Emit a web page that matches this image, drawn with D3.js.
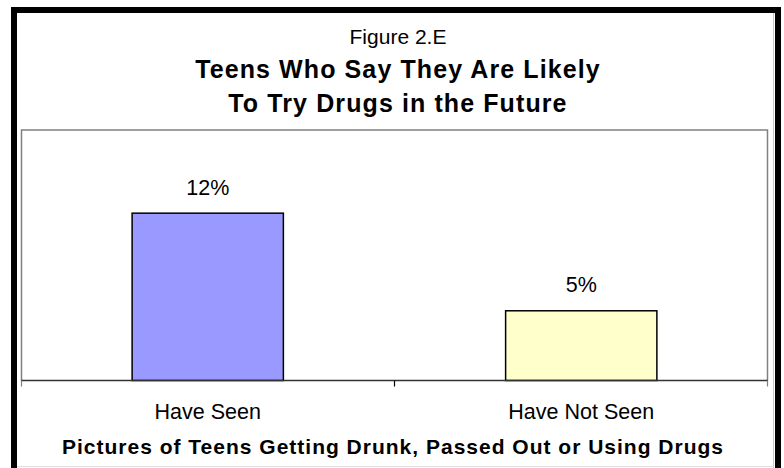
<!DOCTYPE html>
<html><head><meta charset="utf-8">
<script src="https://cdn.jsdelivr.net/npm/d3@7"></script>
<style>body{margin:0;background:#fff}svg{display:block;font-family:"Liberation Sans",Arial,sans-serif}</style>
</head><body><svg id="c" width="784" height="468"></svg>
<script>
const categories = ["Have Seen", "Have Not Seen"];
const values = [12, 5];
const valueLabels = ["12%", "5%"];
const colors = ["#9999FF", "#FFFFCC"];
const figureLabel = "Figure 2.E";
const titleLines = ["Teens Who Say They Are Likely", "To Try Drugs in the Future"];
const xTitle = "Pictures of Teens Getting Drunk, Passed Out or Using Drugs";
const yMax = 18;

const svg = d3.select("#c");
// outer frame
svg.append("rect").attr("x",14).attr("y",10).attr("width",764).attr("height",520)
  .attr("fill","#fff").attr("stroke","#000").attr("stroke-width",6);
svg.append("line").attr("x1",773.5).attr("x2",773.5).attr("y1",13).attr("y2",468).attr("stroke","#c8c8c8");
svg.append("line").attr("x1",17).attr("x2",774).attr("y1",466.5).attr("y2",466.5).attr("stroke","#e0e0e0");

const L = 21, R = 768, T = 129.5, B = 380.5;
const x = d3.scaleBand().domain(categories).range([L, R]).paddingInner(0.595).paddingOuter(0.2975);
const y = d3.scaleLinear().domain([0, yMax]).range([B, T]);

// plot border
svg.append("path").attr("d",`M${L+0.5},${B}V${T+0.5}H${R-0.5}V${B}`).attr("fill","none").attr("stroke","#808080").attr("stroke-width",1.5);

// bars
svg.selectAll("rect.bar").data(categories).join("rect").attr("class","bar")
  .attr("x", d => x(d)).attr("width", x.bandwidth())
  .attr("y", (d,i) => y(values[i])).attr("height", (d,i) => B - y(values[i]))
  .attr("fill", (d,i) => colors[i]).attr("stroke","#000").attr("stroke-width",1.5);

// value labels
svg.selectAll("text.val").data(categories).join("text").attr("class","val")
  .attr("x", d => x(d) + x.bandwidth()/2).attr("y", (d,i) => y(values[i]) - 18.5)
  .attr("text-anchor","middle").attr("font-size",21.5).attr("fill","#000")
  .text((d,i) => valueLabels[i]);

// x axis
const outer = d3.scalePoint().domain(d3.range(categories.length+1)).range([L+0.5, R-0.5]);
const ax = svg.append("g").attr("transform",`translate(0,${B})`);
ax.append("line").attr("x1",L).attr("x2",R).attr("stroke","#333").attr("stroke-width",1.5);
ax.selectAll("line.tk").data(outer.domain()).join("line").attr("class","tk")
  .attr("x1", d => outer(d)).attr("x2", d => outer(d)).attr("y1",0).attr("y2",6)
  .attr("stroke", d => (d===0||d===categories.length) ? "#808080" : "#000").attr("stroke-width",1.2);
ax.selectAll("text").data(categories).join("text")
  .attr("x", d => x(d) + x.bandwidth()/2).attr("y", 38.5)
  .attr("text-anchor","middle").attr("font-size",21.5).attr("fill","#000").text(d => d);

// titles
svg.append("text").attr("x",398).attr("y",44).attr("text-anchor","middle").attr("font-size",21).text(figureLabel);
svg.selectAll("text.tl").data(titleLines).join("text").attr("class","tl")
  .attr("x",398).attr("y",(d,i) => 77.5 + i*34.5).attr("text-anchor","middle")
  .attr("font-size",25).attr("font-weight","bold").attr("letter-spacing",1.1).text(d => d);
svg.append("text").attr("x",393).attr("y",454).attr("text-anchor","middle")
  .attr("font-size",21).attr("font-weight","bold").attr("letter-spacing",1).text(xTitle);
</script></body></html>
